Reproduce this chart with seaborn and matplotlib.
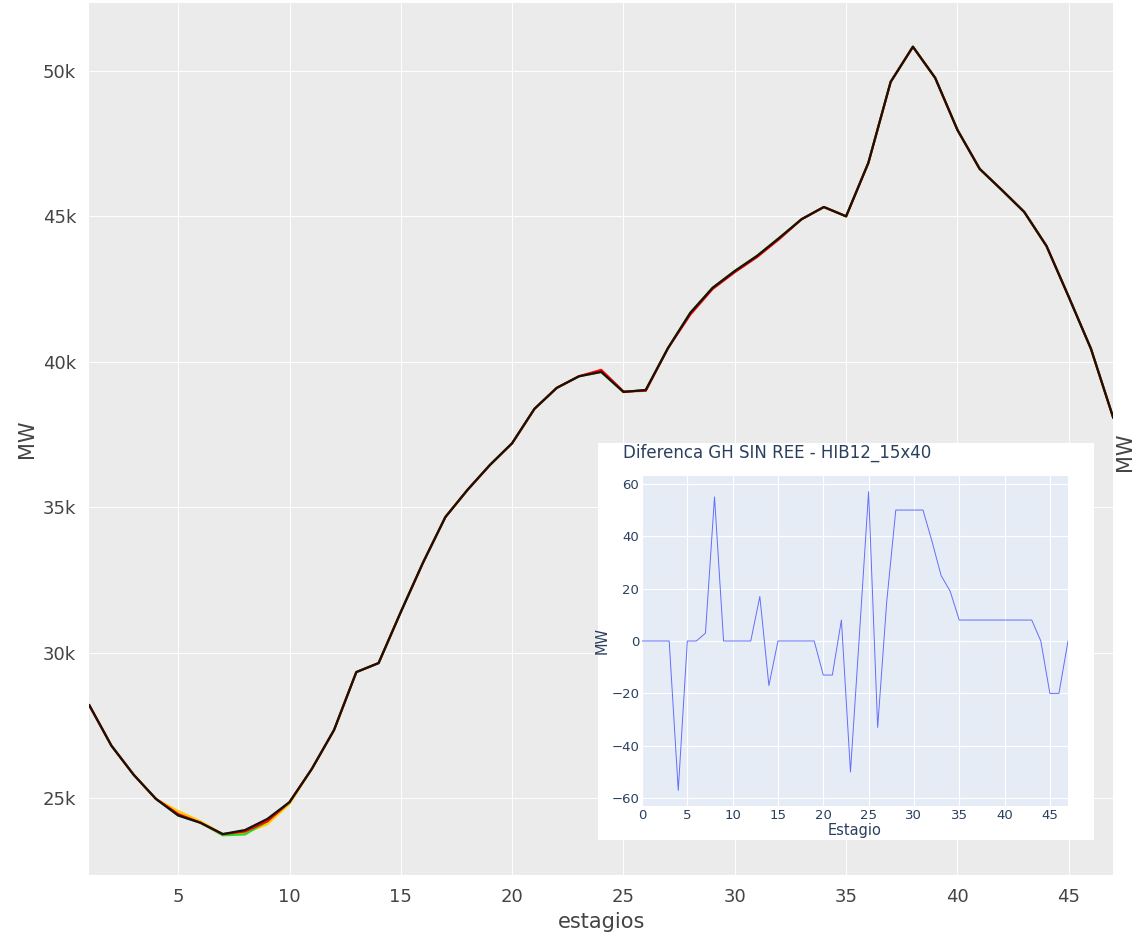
import numpy as np
import pandas as pd
import matplotlib.pyplot as plt
import seaborn as sns
from matplotlib.ticker import FuncFormatter

estagios = list(range(1, 48))
mw_black = [28.2, 26.8, 25.8, 24.97, 24.4, 24.15, 23.76, 23.9, 24.28, 24.86,
            26.0, 27.34, 29.33, 29.64, 31.4, 33.1, 34.66, 35.6, 36.45, 37.2,
            38.38, 39.1, 39.5, 39.65, 38.96, 39.03, 40.47, 41.68, 42.54, 43.12,
            43.64, 44.26, 44.9, 45.32, 45.0, 46.84, 49.62, 50.83, 49.76, 47.97,
            46.63, 45.9, 45.15, 43.98, 42.23, 40.44, 38.07]
mw_red = [28.2, 26.8, 25.8, 24.97, 24.45, 24.15, 23.76, 23.85, 24.2, 24.86,
          26.0, 27.34, 29.33, 29.64, 31.4, 33.1, 34.66, 35.6, 36.45, 37.2,
          38.38, 39.1, 39.5, 39.72, 38.98, 39.0, 40.47, 41.62, 42.5, 43.08,
          43.6, 44.22, 44.9, 45.32, 45.0, 46.84, 49.62, 50.83, 49.76, 47.97,
          46.63, 45.9, 45.15, 43.98, 42.23, 40.44, 38.07]
mw_yellow = [28.2, 26.8, 25.8, 24.97, 24.55, 24.2, 23.76, 23.8, 24.1, 24.8,
             26.0, 27.34, 29.33, 29.64, 31.4, 33.1, 34.66, 35.6, 36.45, 37.2,
             38.38, 39.1, 39.5, 39.65, 38.96, 39.03, 40.47, 41.68, 42.54, 43.12,
             43.64, 44.26, 44.9, 45.32, 45.0, 46.84, 49.62, 50.83, 49.76, 47.97,
             46.63, 45.9, 45.15, 43.98, 42.23, 40.44, 38.07]
mw_green = [28.2, 26.8, 25.8, 24.97, 24.4, 24.15, 23.72, 23.75, 24.2, 24.86,
            26.0, 27.34, 29.33, 29.64, 31.4, 33.1, 34.66, 35.6, 36.45, 37.2,
            38.38, 39.1, 39.5, 39.65, 38.96, 39.03, 40.47, 41.68, 42.54, 43.12,
            43.64, 44.26, 44.9, 45.32, 45.0, 46.84, 49.62, 50.83, 49.76, 47.97,
            46.63, 45.9, 45.15, 43.98, 42.23, 40.44, 38.07]

estagio_diff = list(range(0, 48))
diff = [0, 0, 0, 0, -57, 0, 0, 3, 55, 0, 0, 0, 0, 17, -17, 0, 0, 0, 0, 0,
        -13, -13, 8, -50, 3, 57, -33, 15, 50, 50, 50, 50, 38, 25, 19, 8,
        8, 8, 8, 8, 8, 8, 8, 8, 0, -20, -20, 0]

sns.set_theme(style="darkgrid", rc={"axes.facecolor": "#ebebeb", "grid.color": "white"})
plt.rcParams['font.family'] = ['DejaVu Sans']

fig = plt.figure(figsize=(11.43, 9.42), dpi=100)
ax = fig.add_axes([0.078, 0.071, 0.896, 0.926])

for vals, color in [(mw_yellow, "#ffcc00"), (mw_green, "#22dd22"), (mw_red, "red"), (mw_black, "#1a1010")]:
    sns.lineplot(x=estagios, y=np.array(vals) * 1000, color=color, lw=1.6, ax=ax)

ax.set_xlim(1, 47)
ax.set_ylim(22350, 52340)
ax.set_xticks([5, 10, 15, 20, 25, 30, 35, 40, 45])
ax.set_yticks([25000, 30000, 35000, 40000, 45000, 50000])
ax.yaxis.set_major_formatter(FuncFormatter(lambda v, p: f"{int(v/1000)}k"))
ax.grid(color="white", lw=0.7)
ax.tick_params(labelsize=13, colors="#444444")
ax.set_xlabel("estagios", fontsize=15, color="#444444")
ax.set_ylabel("MW", fontsize=15, color="#444444")
for s in ax.spines.values():
    s.set_visible(False)
fig.text(0.993, 0.52, "MW", rotation=90, fontsize=15, color="#444444", ha="right", va="center")

# inset
box = fig.add_axes([598/1143, 1 - 840/942, 496/1143, 397/942])
box.set_facecolor("white")
box.set_xticks([]); box.set_yticks([])
box.grid(False)
for s in box.spines.values():
    s.set_visible(False)
ins = fig.add_axes([642/1143, 1 - 806/942, 426/1143, 330/942])
ins.set_facecolor("#e5ecf6")
sns.lineplot(x=estagio_diff, y=diff, color="#636efa", lw=0.7, ax=ins)
ins.set_xlim(0, 47)
ins.set_ylim(-63, 63)
ins.set_xticks([0, 5, 10, 15, 20, 25, 30, 35, 40, 45])
ins.set_yticks([-60, -40, -20, 0, 20, 40, 60])
ins.grid(color="white", lw=0.8)
for s in ins.spines.values():
    s.set_visible(False)
ins.tick_params(labelsize=9.5, colors="#2a3f5f", length=0, pad=2)
ins.set_xlabel("Estagio", fontsize=10.5, color="#2a3f5f", labelpad=1)
ins.set_ylabel("MW", fontsize=10.5, color="#2a3f5f", labelpad=1)
fig.text(623/1143, 1 - 453/942, "Diferenca GH SIN REE - HIB12_15x40", fontsize=12,
         color="#2a3f5f", va="center")

fig.savefig("out.png", dpi=100)
